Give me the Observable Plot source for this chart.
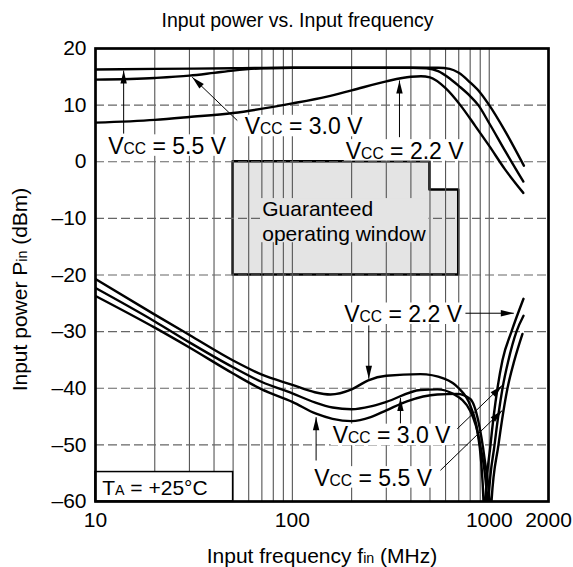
<!DOCTYPE html>
<html>
<head>
<meta charset="utf-8">
<script src="https://cdn.jsdelivr.net/npm/d3@7"></script>
<script src="https://cdn.jsdelivr.net/npm/@observablehq/plot@0.6"></script>
<style>
  body { margin: 0; background: #ffffff; }
</style>
</head>
<body>
<div id="chart"></div>
<script>
// ---------- axis / grid values ----------
const xTicks = [10, 100, 1000, 2000];
const yTicks = [-60, -50, -40, -30, -20, -10, 0, 10, 20];
const xGrid = [20, 30, 40, 50, 60, 70, 80, 90, 100, 200, 300, 400, 500, 600, 700, 800, 900, 1000];
const yGrid = [-50, -40, -30, -20, -10, 0, 10];

// ---------- maximum input power (upper curves) ----------
const maxFreq55 = [10, 20, 50, 100, 200, 400, 550, 630, 700, 800, 900, 1000, 1200, 1500];
const maxPow55  = [16.3, 16.4, 16.5, 16.6, 16.6, 16.6, 16.6, 16.4, 15.7, 14.0, 12.2, 10.0, 5.5, -0.7];
const maxFreq30 = [10, 20, 30, 40, 50, 70, 100, 200, 400, 480, 550, 630, 700, 800, 880, 1000, 1200, 1490];
const maxPow30  = [14.5, 14.8, 15.2, 15.7, 16.1, 16.5, 16.6, 16.6, 16.6, 16.5, 16.0, 14.7, 13.4, 11.6, 10.0, 6.8, 2.0, -3.5];
const maxFreq22 = [10, 20, 30, 50, 100, 150, 200, 300, 400, 450, 500, 600, 713, 850, 1000, 1200, 1490];
const maxPow22  = [6.9, 7.4, 7.9, 8.6, 10.3, 11.5, 12.6, 14.2, 15.0, 15.1, 14.9, 13.0, 10.0, 6.3, 2.8, -1.3, -5.5];

// ---------- minimum input power (sensitivity, lower curves) ----------
const minFreq22 = [10, 20, 30, 50, 70, 100, 130, 156, 200, 243, 300, 447, 590, 700, 800, 870, 910, 935, 946, 957, 1015, 1101, 1168, 1297, 1493];
const minPow22  = [-20.7, -27, -30.6, -35.1, -37.6, -39.4, -40.7, -41.1, -40.2, -38.6, -37.8, -37.5, -38.3, -40, -43, -47.5, -53, -60, -66, -60, -50, -40, -35, -30, -24.2];
const minFreq30 = [10, 20, 30, 50, 70, 100, 130, 160, 200, 250, 300, 447, 545, 656, 801, 900, 978, 985, 991, 1064, 1168, 1253, 1375, 1493];
const minPow30  = [-22.3, -28.2, -31.9, -36.3, -38.9, -40.9, -42.5, -43.4, -43.7, -43.2, -42.4, -40.3, -40.2, -41, -44, -50, -60, -66, -60, -50, -40, -35, -30, -27.2];
const minFreq55 = [10, 20, 30, 50, 70, 100, 132, 160, 200, 250, 300, 382, 545, 685, 801, 880, 950, 1003, 1015, 1027, 1114, 1238, 1344, 1475];
const minPow55  = [-23.7, -29.3, -32.8, -37.4, -40.2, -42.4, -44.5, -45.4, -45.8, -45.1, -43.9, -42.3, -41.1, -41, -41.9, -45.8, -52.8, -60, -66, -60, -50, -40, -35, -30.4];

// ---------- guaranteed operating window ----------
const windowFreq = [50, 500, 700];
const windowTop = [0, -5, -5];
const windowBottom = -20;

// ---------- ambient temperature box ----------
const taBoxFreq = [10, 50];
const taBoxPow = [-60, -54.8];

// ---------- annotation labels ----------
const labelText = ["V{CC} = 5.5 V", "V{CC} = 3.0 V", "V{CC} = 2.2 V", "V{CC} = 2.2 V", "V{CC} = 3.0 V", "V{CC} = 5.5 V", "Guaranteed\noperating window", "T{A} = +25°C"];
const labelFreq = [23.1, 114, 372, 365, 319, 257, 70.3, 10.81];
const labelPow  = [1.4, 4.85, 0.55, -28.3, -49.7, -57.2, -14.03, -58.94];
const labelAnchor = ["middle", "middle", "middle", "middle", "middle", "middle", "start", "start"];
const labelSize = [23, 23, 23, 23, 23, 23, 21, 21];
const labelBg = ["white", "white", "white", "white", "white", "white", "#e4e4e4", null];

// ---------- arrows ----------
const arrowTailFreq = [13.9, 52.5, 350, 244.5, 757, 354, 688, 132, 565];
const arrowTailPow  = [4.97, 7.28, 4.34, -28.9, -26.75, -46.2, -47.16, -52.76, -54.5];
const arrowTipFreq  = [13.9, 31.0, 350, 244.5, 1333, 354, 1164, 132, 1164];
const arrowTipPow   = [16.1, 14.93, 14.35, -38.33, -26.75, -41.7, -39.5, -45.1, -43.93];

// ---------- text ----------
const titleText = "Input power vs. Input frequency";
const xTitle = "Input frequency f{in} (MHz)";
const yTitle = "Input power P{in} (dBm)";

// ---------- layout ----------
const W = 573, H = 567, mL = 95, mR = 25, mT = 48, mB = 66;
const FONT = "'Liberation Sans', Arial, Helvetica, sans-serif";

function px(f) { return mL + (W - mL - mR) * Math.log10(f / 10) / Math.log10(200); }
function py(p) { return mT + (H - mT - mB) * (20 - p) / 80; }

// build tables
const series = [];
function addSeries(name, fs, ps) { fs.forEach((f, i) => series.push({s: name, f, p: ps[i]})); }
addSeries("max55", maxFreq55, maxPow55);
addSeries("max30", maxFreq30, maxPow30);
addSeries("max22", maxFreq22, maxPow22);
addSeries("min22", minFreq22, minPow22);
addSeries("min30", minFreq30, minPow30);
addSeries("min55", minFreq55, minPow55);

const windowRows = windowFreq.map((f, i) => ({f, top: windowTop[i], bottom: windowBottom}));
const labels = labelText.map((t, i) => ({t, f: labelFreq[i], p: labelPow[i], a: labelAnchor[i], size: labelSize[i]}));
const arrows = arrowTailFreq.map((f, i) => {
  const tf = arrowTipFreq[i], tp = arrowTipPow[i];
  const dx = px(tf) - px(f), dy = py(tp) - py(arrowTailPow[i]);
  return {tailF: f, tailP: arrowTailPow[i], tipF: tf, tipP: tp, angle: Math.atan2(dx, -dy) * 180 / Math.PI};
});
const arrowHead = {
  draw(ctx) { ctx.moveTo(0, 0); ctx.lineTo(3.2, 13); ctx.lineTo(-3.2, 13); ctx.closePath(); }
};

const labelMarks = [];
for (const size of [...new Set(labelSize)]) {
  for (const a of ["middle", "start"]) {
    const d = labels.filter(l => l.size === size && l.a === a);
    if (!d.length) continue;
    labelMarks.push(Plot.text(d, {x: "f", y: "p", text: "t", textAnchor: a, lineAnchor: "bottom", lineHeight: 1.22, fontSize: size, fill: "black"}));
  }
}

const plot = Plot.plot({
  width: W, height: H,
  marginLeft: mL, marginRight: mR, marginTop: mT, marginBottom: mB,
  style: {fontFamily: FONT, fontSize: "21px", background: "white", color: "black"},
  x: {type: "log", domain: [10, 2000], ticks: xTicks, tickFormat: d => `${d}`, tickSize: 0, tickPadding: 11, label: null},
  y: {domain: [-60, 20], ticks: yTicks, tickFormat: d => (d < 0 ? "\u2013" + (-d) : `${d}`), tickSize: 0, tickPadding: 9, label: null},
  marks: [
    Plot.areaY(windowRows, {x: "f", y1: "bottom", y2: "top", curve: "step-after", fill: "#e4e4e4", stroke: "black", strokeWidth: 2.5}),
    Plot.ruleX(xGrid, {y1: -60, y2: 20, stroke: "#555", strokeWidth: 1.1}),
    Plot.ruleY(yGrid, {stroke: "#666", strokeWidth: 1.1, strokeDasharray: "9,4"}),
    Plot.line(series, {x: "f", y: "p", z: "s", curve: "monotone-x", stroke: "black", strokeWidth: 2.4, clip: true}),
    Plot.rect([0], {x1: taBoxFreq[0], x2: taBoxFreq[1], y1: taBoxPow[0], y2: taBoxPow[1], fill: "white", stroke: "black", strokeWidth: 1.5}),
    ...labelMarks,
    Plot.link(arrows, {x1: "tailF", y1: "tailP", x2: "tipF", y2: "tipP", stroke: "black", strokeWidth: 1}),
    Plot.dot(arrows, {x: "tipF", y: "tipP", rotate: "angle", symbol: arrowHead, fill: "black", stroke: "none", r: 4}),
    Plot.frame({stroke: "black", strokeWidth: 2.7}),
    Plot.text([titleText], {frameAnchor: "top", text: d => d, dy: -22, dx: -24.5, lineAnchor: "bottom", fontSize: 19.5}),
    Plot.text([xTitle], {frameAnchor: "bottom", text: d => d, dy: 61, lineAnchor: "bottom", fontSize: 21}),
    Plot.text([yTitle], {frameAnchor: "left", text: d => d, rotate: -90, dx: -69, dy: 14.5, lineAnchor: "bottom", textAnchor: "middle", fontSize: 21})
  ]
});

document.getElementById("chart").appendChild(plot);

// --- backgrounds behind labels and small-caps subscripts ---
const bgMap = new Map();
labelText.forEach((t, i) => { if (labelBg[i]) bgMap.set(t.replace(/\n/g, ""), labelBg[i]); });
const NS = "http://www.w3.org/2000/svg";
const texts = Array.from(plot.querySelectorAll("g[aria-label='text'] text"));
const withBg = texts.filter(t => bgMap.has(t.textContent)).map(t => [t, bgMap.get(t.textContent)]);
for (const t of texts) {
  const s = t.textContent;
  if (!s.includes("{") || t.querySelector("tspan")) continue;
  t.textContent = "";
  for (const part of s.split(/(\{[^}]*\})/)) {
    if (!part) continue;
    const ts = document.createElementNS(NS, "tspan");
    if (part.startsWith("{")) { ts.textContent = part.slice(1, -1); ts.setAttribute("font-size", "0.68em"); }
    else ts.textContent = part;
    t.appendChild(ts);
  }
}
for (const [t, color] of withBg) {
  const b = t.getBBox();
  const r = document.createElementNS(NS, "rect");
  r.setAttribute("x", b.x - 2);
  r.setAttribute("y", b.y + 1.5);
  r.setAttribute("width", b.width + 4);
  r.setAttribute("height", b.height - 4.5);
  r.setAttribute("fill", color);
  r.setAttribute("stroke", "none");
  const tr = t.getAttribute("transform");
  if (tr) r.setAttribute("transform", tr);
  t.parentNode.insertBefore(r, t);
}
</script>
</body>
</html>
